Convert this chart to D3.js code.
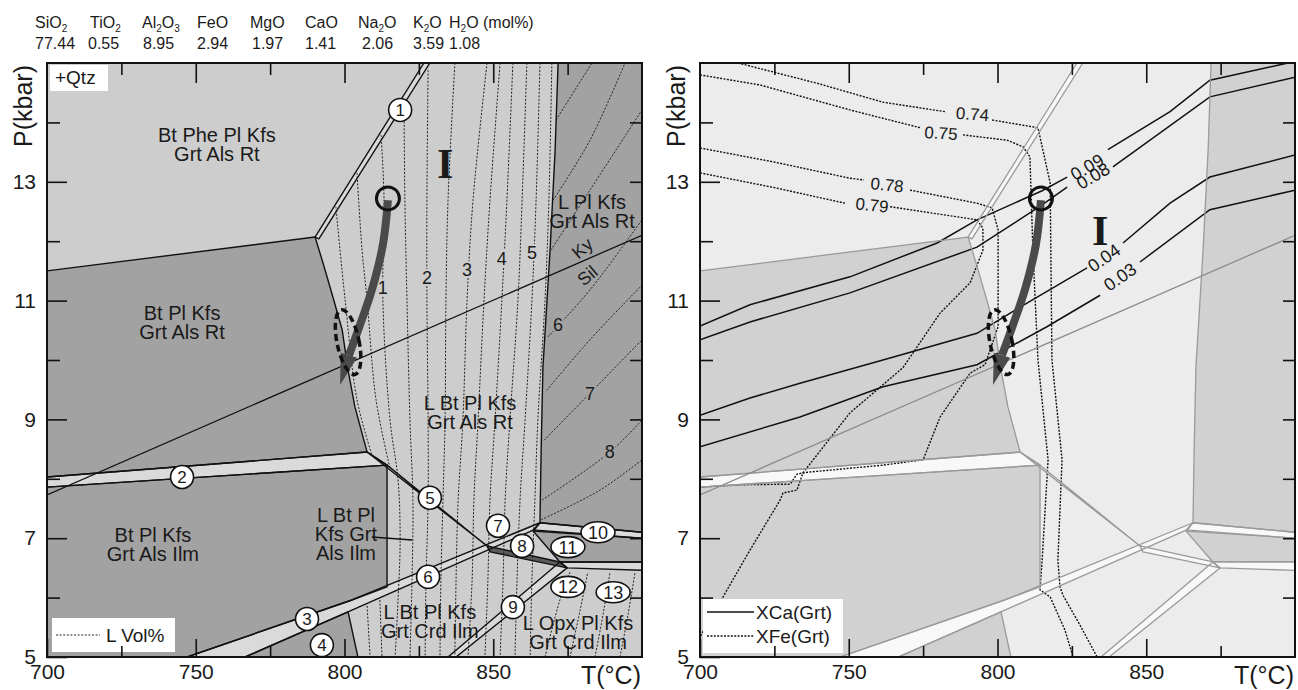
<!DOCTYPE html>
<html>
<head>
<meta charset="utf-8">
<script src="https://cdn.jsdelivr.net/npm/d3@7"></script>
<style>
  body { margin: 0; background: #fff; }
  text { fill: #1a1a1a; }
</style>
</head>
<body>
<svg id="chart" width="1298" height="690"></svg>
<script>
// ---- values: T in °C, P in kbar ----
const oxides = ["SiO2", "TiO2", "Al2O3", "FeO", "MgO", "CaO", "Na2O", "K2O", "H2O"];
const oxideMol = ["77.44", "0.55", "8.95", "2.94", "1.97", "1.41", "2.06", "3.59", "1.08"];

const tempMajor = [700, 750, 800, 850];
const tempMinor = [725, 775, 825, 875];
const pressMajor = [5, 7, 9, 11, 13];
const pressMinor = [6, 8, 10, 12, 14];

// dark-shaded fields (polygons)
const darkFields = [
  [[700, 11.5], [790.1, 12.07], [792.8, 11.63], [796.1, 11.06], [799.2, 10.51], [801.2, 9.83], [803.5, 9.21], [807.6, 8.45], [700, 8.03]],
  [[700, 7.86], [814.3, 8.23], [814.3, 6.18], [802.5, 5.96], [747.1, 5], [700, 5]],
  [[766.6, 5], [801.2, 5.76], [804.5, 5]],
  [[871.8, 15], [900, 15], [900, 7.10], [865.7, 7.26], [866.1, 8.48], [866.7, 9.88], [869.1, 11.85], [870.8, 13.54]],
  [[863.4, 7.12], [900, 7.0], [900, 6.6], [872.4, 6.6]]
];
// narrow fields along the reaction lines
const bandFields = [
  [[826.7, 15], [828.7, 15], [791.4, 12.04], [790.1, 12.07]],
  [[700, 8.03], [807.6, 8.45], [814.3, 8.23], [700, 7.86]],
  [[747.1, 5], [802.5, 5.96], [865.7, 7.26], [864.0, 7.15], [802.5, 5.79], [766.6, 5]],
  [[807.6, 8.45], [847.9, 6.87], [814.3, 8.23]],
  [[872.4, 6.6], [874.8, 6.5], [837.5, 5], [834.8, 5]],
  [[865.7, 7.26], [900, 7.1], [900, 7.0], [863.4, 7.14]],
  [[872.4, 6.6], [900, 6.6], [900, 6.46], [874.8, 6.5]]
];
const bandEight = [[847.9, 6.87], [872.4, 6.6], [874.8, 6.5], [848.9, 6.77]];
const kySil = [[700, 7.73], [900, 12.1]];

// L vol% isopleths (left panel)
const liquidVol = [
  [[797.1, 12.58], [800.2, 11.01], [804.2, 9.33], [809.2, 8.40]],
  [[804.2, 13.15], [805.9, 11.85], [807.6, 11.01], [810.6, 9.33], [815.3, 8.18]],
  [[812.3, 13.79], [813.3, 12.69], [812.9, 11.01], [815.3, 8.99], [818.0, 7.98], [818.7, 6.97], [818.0, 5.96], [817.0, 5]],
  [[820.0, 14.38], [820.3, 12.69], [821.0, 11.01], [822.0, 8.99], [823.0, 7.64], [822.7, 6.30], [822.0, 5]],
  [[828.1, 14.88], [827.7, 12.69], [827.7, 11.01], [828.1, 8.99], [828.1, 7.64], [827.4, 6.30], [827.1, 5]],
  [[837.1, 15], [834.8, 12.69], [834.1, 11.01], [833.8, 8.99], [833.1, 7.64], [832.4, 6.30], [832.1, 5]],
  [[847.9, 15], [843.2, 12.69], [841.2, 11.01], [839.8, 8.99], [838.2, 7.64], [837.5, 6.30], [837.1, 5]],
  [[852.3, 15], [848.9, 12.69], [846.9, 11.01], [844.9, 8.99], [843.5, 7.64], [842.9, 6.30], [841.5, 5]],
  [[856.6, 15], [854.6, 12.69], [852.9, 11.01], [850.6, 8.99], [848.9, 7.64], [848.2, 6.30], [847.2, 5]],
  [[861.3, 15], [859.7, 12.69], [858.3, 11.01], [855.6, 8.99], [854.0, 7.64], [853.3, 6.30], [852.3, 5]],
  [[865.7, 15], [864.4, 12.69], [863.0, 11.01], [860.7, 8.99], [859.0, 7.64], [858.0, 6.30], [857.3, 5]],
  [[869.7, 15], [868.7, 12.69], [867.4, 11.01], [865.0, 8.99], [864.0, 7.64], [863.0, 6.30], [862.4, 5]],
  [[807.6, 5.86], [808.6, 5]],
  [[811.9, 5.96], [812.6, 5]],
  [[867.4, 5], [872.4, 5.96], [875.8, 6.43]],
  [[875.8, 5], [879.2, 5.79], [881.8, 6.43]],
  [[884.2, 5], [886.9, 5.71], [889.2, 6.41]],
  [[892.6, 5], [895.3, 5.71], [897.6, 6.41]],
  [[871.1, 14.04], [877.5, 14.55], [883.2, 15]],
  [[870.1, 12.69], [882.5, 13.70], [894.3, 15]],
  [[869.4, 11.85], [882.5, 12.86], [900, 14.21]],
  [[868.4, 10.39], [882.5, 11.18], [900, 12.36]],
  [[868.0, 9.49], [882.5, 10.34], [900, 11.26]],
  [[867.1, 8.65], [882.5, 9.44], [900, 10.34]],
  [[866.4, 7.64], [889.2, 8.45], [900, 8.99]],
  [[866.1, 7.31], [885.9, 7.81], [900, 8.32]]
];
const liquidVolLabels = [
  ["1", 812.9, 11.21], ["2", 827.7, 11.38], ["3", 841.2, 11.52], ["4", 852.9, 11.70],
  ["5", 863.0, 11.80], ["6", 871.8, 10.59], ["7", 882.5, 9.44], ["8", 889.2, 8.45]
];

// garnet isopleths (right panel), each split where its label sits
const xCaLevels = ["0.09", "0.08", "0.04", "0.03"];
const xCaLines = [
  [[[700, 10.57], [716.8, 10.93], [750.4, 11.40], [779.7, 11.97], [793.1, 12.36], [815.0, 12.85], [823.4, 13.08]],
   [[837.1, 13.54], [858.0, 14.18], [871.4, 14.71], [897.6, 15]]],
  [[[700, 10.34], [716.8, 10.64], [750.4, 11.13], [793.1, 11.90], [815.0, 12.61], [823.4, 12.91]],
   [[838.8, 13.25], [871.4, 14.43], [900, 14.76]]],
  [[[700, 9.07], [716.8, 9.36], [733.6, 9.61], [761.5, 10.0], [793.1, 10.45], [807.6, 10.89], [830.1, 11.55]],
   [[842.2, 11.97], [858.0, 12.64], [871.4, 13.08], [900, 13.45]]],
  [[[700, 8.54], [733.6, 9.04], [761.5, 9.55], [793.1, 9.92], [816.6, 10.56], [834.5, 11.09]],
   [[847.9, 11.65], [871.4, 12.53], [900, 12.86]]]
];
const xCaLabelPos = [[830.1, 13.25, -30], [832.1, 13.10, -30], [835.8, 11.72, -35], [841.2, 11.40, -35]];

const xFeLevels = ["0.74", "0.75", "0.78", "0.79"];
const xFeLines = [
  [[[712.8, 15], [739.3, 14.66], [761.5, 14.34], [782.4, 14.18]],
   [[798.2, 14.04], [813.6, 13.91], [817.7, 12.98], [818.3, 10.0], [821.7, 8.32], [820.3, 6.63], [821.0, 6.18], [822.0, 6.04], [827.7, 5.54], [833.5, 5]]],
  [[[700, 14.80], [720.2, 14.63], [750.4, 14.21], [774.0, 13.91]],
   [[788.4, 13.79], [803.2, 13.70], [808.6, 13.59], [810.9, 13.42], [811.9, 11.85], [813.6, 10.0], [817.0, 8.32], [815.0, 6.63], [814.3, 6.13], [817.7, 6.01], [822.7, 5.45], [825.4, 5]]],
  [[[700, 13.57], [725.2, 13.33], [750.4, 13.06], [755.1, 13.03]],
   [[770.6, 12.86], [793.1, 12.64], [798.2, 12.56], [800.2, 12.19], [800.2, 10.56], [795.8, 9.92], [790.8, 9.78], [780.7, 9.04], [775.0, 8.32], [761.5, 8.23], [736.0, 8.11], [732.6, 8.08], [730.3, 7.91], [714.5, 7.90], [700, 7.86]]],
  [[[700, 13.15], [725.2, 12.90], [748.7, 12.64]],
   [[763.9, 12.58], [793.1, 12.36], [795.1, 12.22], [795.1, 11.85], [790.8, 11.30], [780.7, 10.79], [768.2, 9.87], [750.4, 9.11], [734.6, 8.10], [732.6, 7.81], [727.9, 7.76], [726.9, 7.64], [716.8, 6.80], [700, 5.34]]]
];
const xFeLabelPos = [[791.6, 14.14, 4], [781.0, 13.82, 4], [762.9, 12.95, 6], [757.8, 12.61, 6]];

// P-T path
const arrowPath = [[814.6, 12.69], [812.9, 11.94], [809.2, 11.18], [805.2, 10.59], [801.5, 10.08]];
const arrowTip = [798.5, 9.58];
const peakCircle = [814.6, 12.72];
const retroEllipse = [801.2, 10.30];

const fieldNames = [
  [["Bt Phe Pl Kfs", "Grt Als Rt"], 757.1, 13.79],
  [["Bt Pl Kfs", "Grt Als Rt"], 745.4, 10.79],
  [["Bt Pl Kfs", "Grt Als Ilm"], 735.6, 7.05],
  [["L Bt Pl", "Kfs Grt", "Als Ilm"], 800.5, 7.39],
  [["L Bt Pl Kfs", "Grt Als Rt"], 842.2, 9.28],
  [["L Pl Kfs", "Grt Als Rt"], 883.2, 12.66],
  [["L Bt Pl Kfs", "Grt Crd Ilm"], 828.7, 5.76],
  [["L Opx Pl Kfs", "Grt Crd Ilm"], 878.5, 5.57]
];
const leader = [[809.2, 7.02], [822.7, 6.97]];
const reactions = [
  ["1", 818.7, 14.21], ["2", 745.4, 8.03], ["3", 787.4, 5.64], ["4", 792.4, 5.20],
  ["5", 828.7, 7.68], ["6", 828.1, 6.35], ["7", 851.6, 7.21], ["8", 859.7, 6.87], ["9", 856.6, 5.84]
];
const reactionsWide = [["10", 885.2, 7.10], ["11", 875.1, 6.85], ["12", 875.1, 6.18], ["13", 890.3, 6.09]];

// ---- drawing ----
const sans = '"Liberation Sans", Arial, sans-serif';
const serif = '"Liberation Serif", "Times New Roman", serif';
const svg = d3.select("#chart").attr("font-family", sans);
const y = d3.scaleLinear().domain([5, 15]).range([657, 63]);
const xLeft = d3.scaleLinear().domain([700, 900]).range([47, 642]);
const xRight = d3.scaleLinear().domain([700, 900]).range([700, 1295]);

function drawPanel(id, x, c) {
  const line = d3.line().x(d => x(d[0])).y(d => y(d[1]));
  const g = svg.append("g");
  g.append("clipPath").attr("id", id).append("rect")
    .attr("x", x(700)).attr("y", y(15))
    .attr("width", x(900) - x(700)).attr("height", y(5) - y(15));
  const body = g.append("g").attr("clip-path", "url(#" + id + ")");

  body.append("rect")
    .attr("x", x(700)).attr("y", y(15))
    .attr("width", x(900) - x(700)).attr("height", y(5) - y(15))
    .attr("fill", c.light);

  body.selectAll(".dark").data(darkFields).join("path")
    .attr("d", d => line(d) + "Z")
    .attr("fill", c.dark);
  body.selectAll(".band").data(bandFields).join("path")
    .attr("d", d => line(d) + "Z")
    .attr("fill", c.band);
  body.append("path").attr("d", line(bandEight) + "Z").attr("fill", c.eight);

  if (c.isolines) c.isolines(body, line);

  // field boundaries
  body.selectAll(".edge").data(darkFields.concat(bandFields, [bandEight])).join("path")
    .attr("d", d => line(d) + "Z")
    .attr("fill", "none")
    .attr("stroke", c.edge)
    .attr("stroke-width", c.edgeWidth)
    .attr("stroke-linejoin", "round");
  body.append("path").attr("d", line(kySil))
    .attr("fill", "none").attr("stroke", c.kySil).attr("stroke-width", 1.3);

  return { g: g, body: body, line: line };
}

function drawAxes(g, x, leftTitleX) {
  const style = a => {
    a.select(".domain").remove();
    a.selectAll(".tick line").attr("stroke", "#111").attr("stroke-width", 1.6);
    a.attr("font-size", 21).attr("font-family", sans);
  };
  g.append("g").attr("transform", "translate(0," + y(5) + ")")
    .call(d3.axisBottom(x).tickValues(tempMajor).tickSize(-18).tickPadding(7).tickFormat(d3.format("d"))).call(style);
  g.append("g").attr("transform", "translate(0," + y(5) + ")")
    .call(d3.axisBottom(x).tickValues(tempMinor).tickSize(-11).tickFormat("")).call(style);
  g.append("g").attr("transform", "translate(0," + y(15) + ")")
    .call(d3.axisTop(x).tickValues([750, 800, 850]).tickSize(-20).tickFormat("")).call(style);
  g.append("g").attr("transform", "translate(0," + y(15) + ")")
    .call(d3.axisTop(x).tickValues(tempMinor).tickSize(-12).tickFormat("")).call(style);
  g.append("g").attr("transform", "translate(" + x(700) + ",0)")
    .call(d3.axisLeft(y).tickValues(pressMajor).tickSize(-20).tickPadding(11).tickFormat(d3.format("d"))).call(style);
  g.append("g").attr("transform", "translate(" + x(700) + ",0)")
    .call(d3.axisLeft(y).tickValues(pressMinor).tickSize(-13).tickFormat("")).call(style);
  g.append("g").attr("transform", "translate(" + x(900) + ",0)")
    .call(d3.axisRight(y).tickValues(pressMajor.slice(1).concat(pressMinor)).tickSize(-12).tickFormat("")).call(style);

  g.append("rect")
    .attr("x", x(700)).attr("y", y(15))
    .attr("width", x(900) - x(700)).attr("height", y(5) - y(15))
    .attr("fill", "none").attr("stroke", "#111").attr("stroke-width", 2);

  g.append("text").attr("x", x(900) - 1).attr("y", 684)
    .attr("text-anchor", "end").attr("font-size", 25).text("T(°C)");
  g.append("text").attr("transform", "translate(" + leftTitleX + ",106) rotate(-90)")
    .attr("text-anchor", "middle").attr("font-size", 25).text("P(kbar)");
}

function drawPath(g, x) {
  const pts = arrowPath.map(d => [x(d[0]), y(d[1])]);
  const tip = [x(arrowTip[0]), y(arrowTip[1])];
  g.append("path").attr("d", d3.line().curve(d3.curveCatmullRom)(pts))
    .attr("fill", "none").attr("stroke", "#4a4a4a").attr("stroke-width", 8);
  const b = pts[pts.length - 1];
  const dx = tip[0] - b[0], dy = tip[1] - b[1], len = Math.hypot(dx, dy);
  const nx = -dy / len * 8.5, ny = dx / len * 8.5;
  g.append("path")
    .attr("d", "M" + (b[0] + nx) + "," + (b[1] + ny) + "L" + tip[0] + "," + tip[1] + "L" + (b[0] - nx) + "," + (b[1] - ny) + "Z")
    .attr("fill", "#4a4a4a");
  const ex = x(retroEllipse[0]), ey = y(retroEllipse[1]);
  g.append("ellipse").attr("cx", ex).attr("cy", ey).attr("rx", 11).attr("ry", 33)
    .attr("transform", "rotate(-12," + ex + "," + ey + ")")
    .attr("fill", "none").attr("stroke", "#111").attr("stroke-width", 3.5)
    .attr("stroke-dasharray", "7,4");
  g.append("circle").attr("cx", x(peakCircle[0])).attr("cy", y(peakCircle[1])).attr("r", 11.5)
    .attr("fill", "none").attr("stroke", "#111").attr("stroke-width", 3);
}

// header with the bulk composition
const header = svg.append("g");
const headerX = [35, 90, 142, 197, 250, 305, 358, 413, 449];
const numberX = [35, 88, 143, 197, 252, 305, 362, 413, 449];
oxides.forEach((ox, i) => {
  const t = header.append("text").attr("x", headerX[i]).attr("y", 28);
  let sub = false;
  ox.split(/(\d)/).filter(s => s).forEach(s => {
    const isNum = /\d/.test(s);
    t.append("tspan").attr("font-size", isNum ? 10 : 16)
      .attr("dy", isNum ? 4 : (sub ? -4 : 0)).text(s);
    sub = isNum;
  });
  if (i === oxides.length - 1) t.append("tspan").attr("font-size", 16).attr("dy", sub ? -4 : 0).text(" (mol%)");
  header.append("text").attr("x", numberX[i]).attr("y", 49).attr("font-size", 16).text(oxideMol[i]);
});

// ---- left panel ----
const left = drawPanel("clipL", xLeft, {
  light: "#cdcdcd", dark: "#a2a2a2", band: "#dadada", eight: "#5a5a5a",
  edge: "#111", edgeWidth: 1.4, kySil: "#111",
  isolines: (body, line) => {
    const curve = d3.line().x(d => xLeft(d[0])).y(d => y(d[1])).curve(d3.curveCatmullRom);
    body.selectAll(".lvol").data(liquidVol).join("path")
      .attr("d", d => curve(d))
      .attr("fill", "none").attr("stroke", "#222").attr("stroke-width", 1)
      .attr("stroke-dasharray", "2,1.6");
  }
});
left.body.selectAll(".lvl").data(liquidVolLabels).join("text")
  .attr("x", d => xLeft(d[1])).attr("y", d => y(d[2]))
  .attr("dy", "0.35em").attr("text-anchor", "middle").attr("font-size", 18)
  .attr("stroke", (d, i) => i < 5 ? "#cdcdcd" : "#a2a2a2").attr("stroke-width", 4)
  .attr("paint-order", "stroke").text(d => d[0]);

// Ky / Sil labels
left.body.append("text").attr("transform", "translate(" + xLeft(881.3) + "," + y(11.8) + ") rotate(-40)")
  .attr("text-anchor", "middle").attr("font-size", 18).text("Ky");
left.body.append("text").attr("transform", "translate(" + xLeft(883) + "," + y(11.34) + ") rotate(-40)")
  .attr("text-anchor", "middle").attr("font-size", 18).text("Sil");

fieldNames.forEach(f => {
  const t = left.g.append("text").attr("text-anchor", "middle").attr("font-size", 20)
    .attr("x", xLeft(f[1])).attr("y", y(f[2]));
  f[0].forEach((s, i) => t.append("tspan").attr("x", xLeft(f[1])).attr("dy", i ? 19 : 7).text(s));
});
left.g.append("path").attr("d", left.line(leader)).attr("stroke", "#111").attr("stroke-width", 1.3);

left.g.append("text").attr("x", xLeft(833.8)).attr("y", y(13.06)).attr("text-anchor", "middle")
  .attr("font-family", serif).attr("font-weight", "bold").attr("font-size", 42).text("I");

drawPath(left.g, xLeft);

const rc = left.g.selectAll(".rc").data(reactions).join("g")
  .attr("transform", d => "translate(" + xLeft(d[1]) + "," + y(d[2]) + ")");
rc.append("circle").attr("r", 11.5).attr("fill", "#fff").attr("stroke", "#111").attr("stroke-width", 1.6);
rc.append("text").attr("dy", "0.36em").attr("text-anchor", "middle").attr("font-size", 17).text(d => d[0]);
const re = left.g.selectAll(".re").data(reactionsWide).join("g")
  .attr("transform", d => "translate(" + xLeft(d[1]) + "," + y(d[2]) + ")");
re.append("ellipse").attr("rx", 17).attr("ry", 10.5).attr("fill", "#fff").attr("stroke", "#111").attr("stroke-width", 1.6);
re.append("text").attr("dy", "0.36em").attr("text-anchor", "middle").attr("font-size", 18).text(d => d[0]);

left.g.append("rect").attr("x", 50).attr("y", 65).attr("width", 58).attr("height", 26).attr("fill", "#fff");
left.g.append("text").attr("x", 55).attr("y", 84).attr("font-size", 19).text("+Qtz");
left.g.append("rect").attr("x", 52).attr("y", 618).attr("width", 123).attr("height", 34).attr("fill", "#fff");
left.g.append("line").attr("x1", 56).attr("x2", 100).attr("y1", 635).attr("y2", 635)
  .attr("stroke", "#222").attr("stroke-width", 1.2).attr("stroke-dasharray", "2,1.6");
left.g.append("text").attr("x", 106).attr("y", 642).attr("font-size", 19).text("L Vol%");

drawAxes(left.g, xLeft, 32);

// ---- right panel ----
const right = drawPanel("clipR", xRight, {
  light: "#ececec", dark: "#d1d1d1", band: "#f8f8f8", eight: "#f8f8f8",
  edge: "#9a9a9a", edgeWidth: 1.3, kySil: "#8c8c8c",
  isolines: (body, line) => {
    xCaLines.forEach(segs => segs.forEach(s => body.append("path").attr("d", line(s))
      .attr("fill", "none").attr("stroke", "#111").attr("stroke-width", 1.5)));
    xFeLines.forEach(segs => segs.forEach(s => body.append("path").attr("d", line(s))
      .attr("fill", "none").attr("stroke", "#111").attr("stroke-width", 1.4)
      .attr("stroke-dasharray", "2,1.4")));
  }
});
right.g.selectAll(".xca").data(xCaLevels).join("text")
  .attr("transform", (d, i) => "translate(" + xRight(xCaLabelPos[i][0]) + "," + y(xCaLabelPos[i][1]) + ") rotate(" + xCaLabelPos[i][2] + ")")
  .attr("dy", "0.35em").attr("text-anchor", "middle").attr("font-size", 18).text(d => d);
right.g.selectAll(".xfe").data(xFeLevels).join("text")
  .attr("transform", (d, i) => "translate(" + xRight(xFeLabelPos[i][0]) + "," + y(xFeLabelPos[i][1]) + ") rotate(" + xFeLabelPos[i][2] + ")")
  .attr("dy", "0.35em").attr("text-anchor", "middle").attr("font-size", 17).text(d => d);

right.g.append("text").attr("x", xRight(834.5)).attr("y", y(11.94)).attr("text-anchor", "middle")
  .attr("font-family", serif).attr("font-weight", "bold").attr("font-size", 42).text("I");

drawPath(right.g, xRight);

right.g.append("rect").attr("x", 703).attr("y", 599).attr("width", 140).attr("height", 54).attr("fill", "#fff");
right.g.append("line").attr("x1", 707).attr("x2", 754).attr("y1", 612).attr("y2", 612)
  .attr("stroke", "#111").attr("stroke-width", 1.5);
right.g.append("line").attr("x1", 707).attr("x2", 754).attr("y1", 636).attr("y2", 636)
  .attr("stroke", "#111").attr("stroke-width", 1.4).attr("stroke-dasharray", "2,1.4");
right.g.append("text").attr("x", 756).attr("y", 619).attr("font-size", 19).text("XCa(Grt)");
right.g.append("text").attr("x", 756).attr("y", 643).attr("font-size", 19).text("XFe(Grt)");

drawAxes(right.g, xRight, 685);
</script>
</body>
</html>
